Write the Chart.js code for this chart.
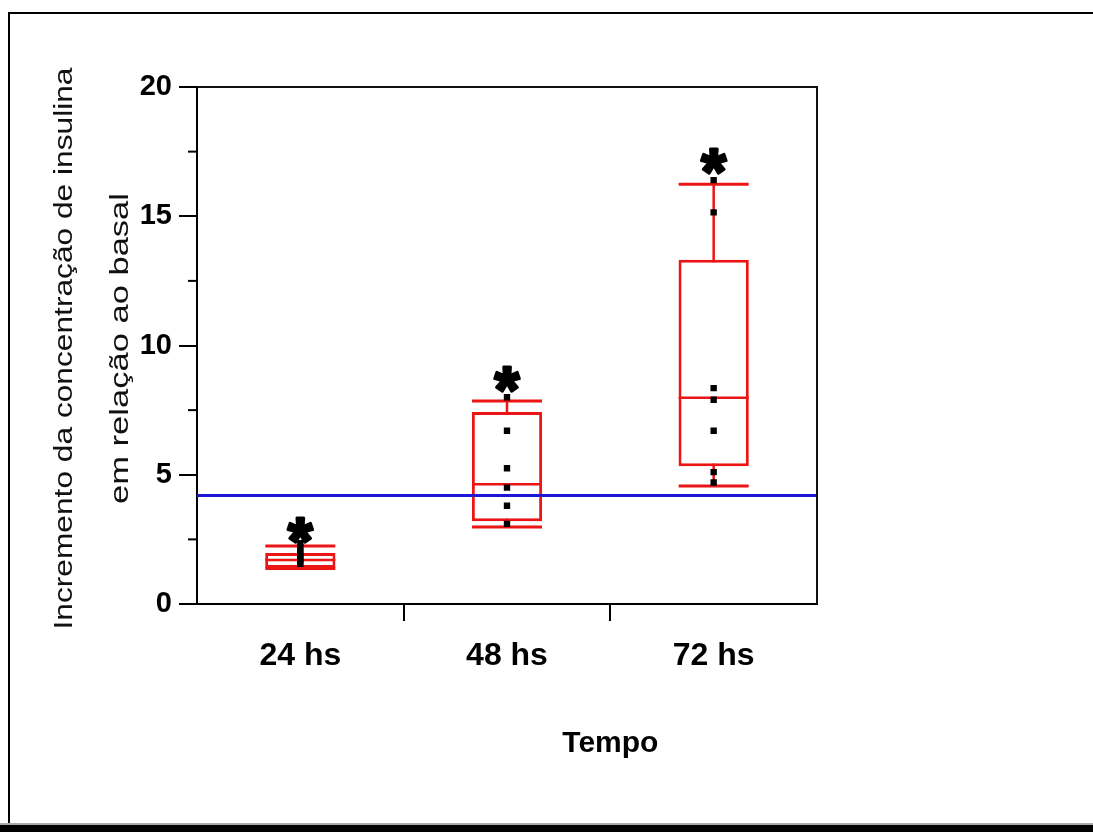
<!DOCTYPE html>
<html><head><meta charset="utf-8">
<script src="https://cdn.jsdelivr.net/npm/chart.js@4.4.1/dist/chart.umd.min.js"></script>
<style>
html,body{margin:0;padding:0;background:#fff;}
#wrap{position:relative;width:1093px;height:832px;overflow:hidden;background:#fff;}
#c{position:absolute;left:0;top:0;}
.f{position:absolute;background:#000;}
</style></head><body>
<div id="wrap">
<div class="f" style="left:8px;top:12px;width:1085px;height:2px"></div>
<div class="f" style="left:8px;top:12px;width:2px;height:813px"></div>
<div class="f" style="left:0;top:823px;width:1093px;height:2px;background:#aaa"></div>
<div class="f" style="left:0;top:825px;width:1093px;height:7px"></div>
<canvas id="c" width="1093" height="832"></canvas>
</div>
<script>
// ---- data ----
const categories = ['24 hs', '48 hs', '72 hs'];
const whiskerLow  = [1.37, 2.98, 4.56];
const q1          = [1.39, 3.20, 5.33];
const median      = [1.70, 4.63, 7.98];
const q3          = [1.97, 7.43, 13.32];
const whiskerHigh = [2.24, 7.85, 16.24];
const points24 = [1.55, 1.65, 1.75, 1.85, 1.95, 2.05, 2.2, 2.35];
const points48 = [8.0, 6.7, 5.25, 4.5, 3.8, 3.1];
const points72 = [16.4, 15.15, 8.35, 7.9, 6.7, 5.1, 4.7];
const asterisks = [2.85, 8.7, 17.1];
const baseline = 4.2;
const yTicks = [0, 5, 10, 15, 20];
const xTitle = 'Tempo';
const yTitle = ['Incremento da concentração de insulina', 'em relação ao basal'];

// ---- derived tables ----
const rawPoints = [points24, points48, points72];
const scatterData = [];
rawPoints.forEach((arr, i) => arr.forEach(v => scatterData.push({x: categories[i], y: v})));
const capData = [];
categories.forEach((c, i) => { capData.push({x: c, y: whiskerHigh[i]}); capData.push({x: c, y: whiskerLow[i]}); });
const medianData = categories.map((c, i) => ({x: c, y: median[i]}));

const RED = '#ec1515';
const FONT = '"Liberation Sans", Arial, sans-serif';

const decor = {
  id: 'decor',
  afterDatasetsDraw(chart) {
    const {ctx, chartArea: a, scales: {x, y}} = chart;
    ctx.save();
    // baseline
    ctx.strokeStyle = '#1e16d6';
    ctx.lineWidth = 3;
    const by = y.getPixelForValue(baseline);
    ctx.beginPath(); ctx.moveTo(a.left, by); ctx.lineTo(a.right, by); ctx.stroke();
    // asterisks
    ctx.fillStyle = '#000';
    ctx.strokeStyle = '#000';
    ctx.lineWidth = 3;
    ctx.lineJoin = 'round';
    ctx.font = 'bold 100px ' + FONT;
    let m = ctx.measureText('*');
    const gw = m.actualBoundingBoxLeft + m.actualBoundingBoxRight;
    const size = 100 * 25 / gw;
    ctx.font = 'bold ' + size + 'px ' + FONT;
    m = ctx.measureText('*');
    ctx.textAlign = 'left';
    ctx.textBaseline = 'alphabetic';
    asterisks.forEach((v, i) => {
      const cx = x.getPixelForValue(i);
      const cy = y.getPixelForValue(v);
      const x0 = cx - (m.actualBoundingBoxRight - m.actualBoundingBoxLeft) / 2;
      const y0 = cy + (m.actualBoundingBoxAscent - m.actualBoundingBoxDescent) / 2;
      ctx.fillText('*', x0, y0);
      ctx.strokeText('*', x0, y0);
    });
    ctx.restore();
  },
  afterDraw(chart) {
    const {ctx, chartArea: a, scales: {x, y}} = chart;
    ctx.save();
    // frame top & right
    ctx.strokeStyle = '#111';
    ctx.lineWidth = 2;
    ctx.beginPath();
    ctx.moveTo(a.left, a.top); ctx.lineTo(a.right, a.top); ctx.lineTo(a.right, a.bottom);
    ctx.stroke();
    // minor y ticks
    ctx.strokeStyle = '#000';
    for (let i = 0; i < yTicks.length - 1; i++) {
      const py = y.getPixelForValue((yTicks[i] + yTicks[i + 1]) / 2);
      ctx.beginPath(); ctx.moveTo(a.left - 9, py); ctx.lineTo(a.left, py); ctx.stroke();
    }
    // x title
    ctx.fillStyle = '#000';
    ctx.font = 'bold 30px ' + FONT;
    ctx.textAlign = 'center';
    ctx.textBaseline = 'middle';
    const tx = (x.getPixelForValue(1) + x.getPixelForValue(2)) / 2;
    ctx.fillText(xTitle, tx, a.bottom + 140);
    // y title (two lines, rotated)
    const cy = (a.top + a.bottom) / 2 + 3;
    const lineX = [a.left - 132, a.left - 76];
    const lineLen = [562, 311];
    ctx.fillStyle = '#111';
    ctx.font = '25px ' + FONT;
    yTitle.forEach((t, i) => {
      const w = ctx.measureText(t).width;
      ctx.save();
      ctx.translate(lineX[i], cy);
      ctx.rotate(-Math.PI / 2);
      ctx.scale(lineLen[i] / w, 1);
      ctx.fillText(t, 0, 0);
      ctx.restore();
    });
    ctx.restore();
  }
};

new Chart(document.getElementById('c'), {
  type: 'bar',
  data: {
    labels: categories,
    datasets: [
      {
        type: 'line', data: scatterData, showLine: false, order: 1,
        pointStyle: 'rect', pointRadius: 4.5, pointBackgroundColor: '#000', pointBorderWidth: 0, borderColor: '#000'
      },
      {
        type: 'line', data: medianData, showLine: false, order: 2,
        pointStyle: 'line', pointRadius: 35, pointBorderWidth: 2.5, pointBorderColor: RED, borderColor: RED
      },
      {
        type: 'line', data: capData, showLine: false, order: 2,
        pointStyle: 'line', pointRadius: 35, pointBorderWidth: 3, pointBorderColor: RED, borderColor: RED
      },
      {
        data: categories.map((c, i) => [q1[i], q3[i]]), order: 3, grouped: false,
        backgroundColor: '#ffffff', borderColor: RED, borderWidth: 3, borderSkipped: false,
        barPercentage: 0.34, categoryPercentage: 1
      },
      {
        data: categories.map((c, i) => [whiskerLow[i], whiskerHigh[i]]), order: 4, grouped: false,
        backgroundColor: RED, borderWidth: 0, maxBarThickness: 2.5,
        barPercentage: 0.34, categoryPercentage: 1
      }
    ]
  },
  options: {
    responsive: false,
    animation: false,
    layout: {padding: {left: 127, right: 276, top: 87, bottom: 159}},
    plugins: {legend: {display: false}, tooltip: {enabled: false}},
    scales: {
      x: {
        offset: true,
        afterFit: s => { s.height = 69; },
        grid: {
          offset: true, drawOnChartArea: false, drawTicks: true, tickLength: 17, lineWidth: 2,
          color: ctx => (ctx.index === undefined || ctx.index === 0) ? 'rgba(0,0,0,0)' : '#000'
        },
        border: {display: true, color: '#000', width: 2},
        ticks: {color: '#000', padding: 16, font: {family: FONT, size: 32, weight: 'bold'}}
      },
      y: {
        min: 0, max: 20,
        afterFit: s => { s.width = 70; },
        afterBuildTicks: s => { s.ticks = yTicks.map(v => ({value: v})); },
        grid: {drawOnChartArea: false, drawTicks: true, tickLength: 18, lineWidth: 2, color: '#000'},
        border: {display: true, color: '#000', width: 2},
        ticks: {color: '#000', padding: 7, font: {family: FONT, size: 29, weight: 'bold'}}
      }
    }
  },
  plugins: [decor]
});
</script>
</body></html>
